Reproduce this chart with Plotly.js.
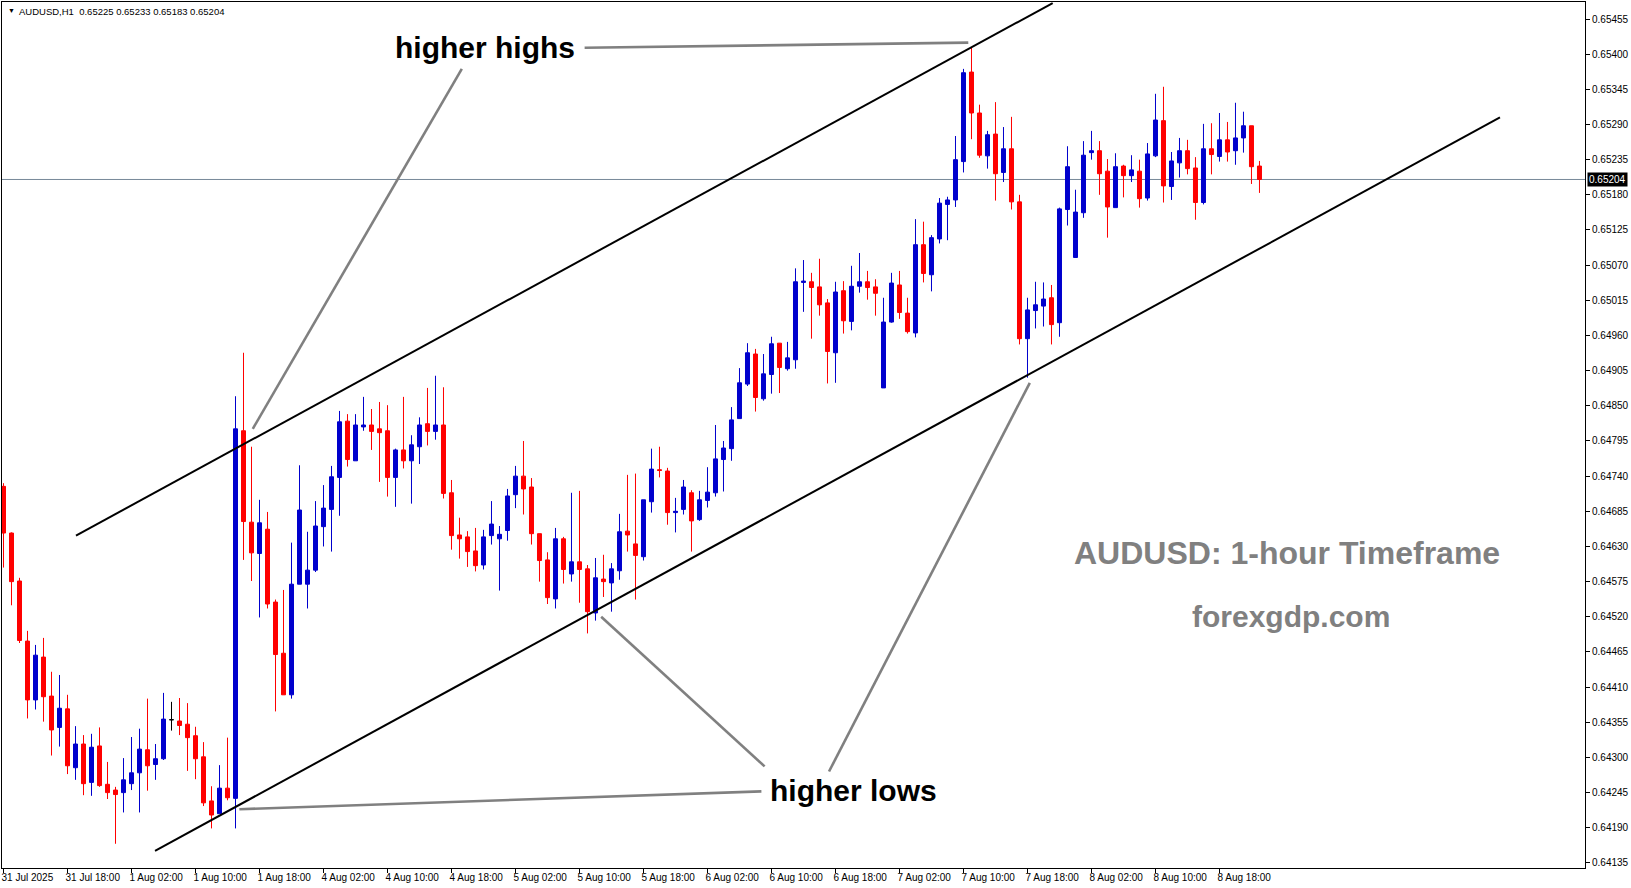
<!DOCTYPE html>
<html>
<head>
<meta charset="utf-8">
<script src="https://cdn.plot.ly/plotly-3.0.1.min.js"></script>
<style>
html,body{margin:0;padding:0;background:#ffffff;}
#chart{width:1631px;height:888px;}
</style>
</head>
<body>
<div id="chart"></div>
<script>
// ---------- DATA ----------
const symbol = "AUDUSD,H1";
const tickLabels = ["31 Jul 2025","31 Jul 18:00","1 Aug 02:00","1 Aug 10:00","1 Aug 18:00","4 Aug 02:00","4 Aug 10:00","4 Aug 18:00","5 Aug 02:00","5 Aug 10:00","5 Aug 18:00","6 Aug 02:00","6 Aug 10:00","6 Aug 18:00","7 Aug 02:00","7 Aug 10:00","7 Aug 18:00","8 Aug 02:00","8 Aug 10:00","8 Aug 18:00"];
const tickBars = [0,8,16,24,32,40,48,56,64,72,80,88,96,104,112,120,128,136,144,152];

const open = [0.64724,0.64651,0.64576,0.64482,0.64390,0.64457,0.64396,0.64347,0.64376,0.64284,
0.64321,0.64261,0.64318,0.64258,0.64249,0.64245,0.64259,0.64276,0.64312,0.64289,
0.64298,0.64359,0.64357,0.64352,0.64334,0.64301,0.64232,0.64212,0.64252,0.64236,
0.64811,0.64668,0.64619,0.64657,0.64543,0.64463,0.64398,0.64571,0.64571,0.64593,
0.64661,0.64688,0.64738,0.64826,0.64764,0.64817,0.64820,0.64814,0.64811,0.64738,
0.64781,0.64764,0.64786,0.64822,0.64810,0.64820,0.64714,0.64648,0.64645,0.64623,
0.64601,0.64647,0.64642,0.64655,0.64711,0.64740,0.64723,0.64650,0.64609,0.64548,
0.64642,0.64587,0.64606,0.64595,0.64526,0.64579,0.64573,0.64592,0.64654,0.64634,
0.64614,0.64700,0.64750,0.64748,0.64683,0.64688,0.64714,0.64672,0.64702,0.64714,
0.64766,0.64783,0.64830,0.64884,0.64931,0.64861,0.64899,0.64948,0.64908,0.64922,
0.65043,0.65044,0.65036,0.65011,0.64933,0.65030,0.64982,0.65037,0.65044,0.65036,
0.64878,0.64981,0.65039,0.64995,0.64964,0.65102,0.65055,0.65111,0.65165,0.65172,
0.65232,0.65372,0.65308,0.65241,0.65275,0.65215,0.65252,0.65169,0.64955,0.64999,
0.65006,0.65019,0.64980,0.65157,0.65082,0.65152,0.65246,0.65249,0.65217,0.65160,
0.65225,0.65210,0.65217,0.65175,0.65241,0.65296,0.65193,0.65230,0.65249,0.65222,
0.65168,0.65252,0.65240,0.65266,0.65249,0.65269,0.65288,0.65225];

const high = [0.64729,0.64652,0.64581,0.64498,0.64476,0.64487,0.64434,0.64429,0.64398,0.64349,
0.64335,0.64337,0.64347,0.64293,0.64254,0.64299,0.64332,0.64345,0.64392,0.64321,
0.64401,0.64387,0.64393,0.64385,0.64348,0.64324,0.64255,0.64288,0.64331,0.64865,
0.64933,0.64786,0.64703,0.64684,0.64547,0.64562,0.64636,0.64757,0.64653,0.64701,
0.64726,0.64756,0.64842,0.64837,0.64837,0.64864,0.64845,0.64856,0.64851,0.64783,
0.64864,0.64804,0.64832,0.64878,0.64897,0.64879,0.64734,0.64675,0.64654,0.64659,
0.64656,0.64701,0.64662,0.64720,0.64756,0.64795,0.64737,0.64650,0.64621,0.64659,
0.64645,0.64714,0.64717,0.64601,0.64612,0.64617,0.64604,0.64681,0.64742,0.64744,
0.64703,0.64783,0.64786,0.64753,0.64706,0.64734,0.64718,0.64717,0.64754,0.64820,
0.64795,0.64848,0.64909,0.64948,0.64939,0.64931,0.64958,0.64948,0.64950,0.65065,
0.65078,0.65058,0.65080,0.65017,0.65044,0.65045,0.65069,0.65089,0.65061,0.65048,
0.65019,0.65058,0.65061,0.65019,0.65142,0.65138,0.65117,0.65175,0.65177,0.65272,
0.65377,0.65411,0.65321,0.65280,0.65325,0.65286,0.65302,0.65180,0.65019,0.65044,
0.65043,0.65039,0.65160,0.65256,0.65188,0.65264,0.65280,0.65264,0.65236,0.65245,
0.65227,0.65242,0.65235,0.65261,0.65338,0.65349,0.65247,0.65269,0.65266,0.65239,
0.65291,0.65292,0.65308,0.65294,0.65324,0.65310,0.65288,0.65233];

const low = [0.64597,0.64538,0.64479,0.64361,0.64375,0.64356,0.64303,0.64317,0.64274,0.64265,
0.64241,0.64240,0.64254,0.64235,0.64165,0.64214,0.64249,0.64214,0.64248,0.64265,
0.64296,0.64342,0.64335,0.64279,0.64266,0.64224,0.64189,0.64212,0.64233,0.64189,
0.64609,0.64576,0.64519,0.64533,0.64372,0.64398,0.64392,0.64571,0.64533,0.64590,
0.64630,0.64622,0.64678,0.64755,0.64764,0.64811,0.64781,0.64731,0.64708,0.64692,
0.64752,0.64697,0.64759,0.64788,0.64797,0.64705,0.64625,0.64611,0.64598,0.64591,
0.64594,0.64633,0.64561,0.64639,0.64690,0.64680,0.64633,0.64575,0.64540,0.64533,
0.64572,0.64575,0.64542,0.64494,0.64514,0.64551,0.64528,0.64578,0.64622,0.64547,
0.64608,0.64683,0.64738,0.64664,0.64652,0.64680,0.64622,0.64670,0.64691,0.64708,
0.64716,0.64764,0.64830,0.64881,0.64841,0.64858,0.64869,0.64870,0.64905,0.64908,
0.64997,0.64955,0.64991,0.64885,0.64886,0.64963,0.64968,0.65027,0.65016,0.64991,
0.64878,0.64980,0.64986,0.64963,0.64957,0.65043,0.65029,0.65104,0.65109,0.65161,
0.65215,0.65267,0.65238,0.65221,0.65171,0.65200,0.65157,0.64946,0.64894,0.64971,
0.64974,0.64946,0.64958,0.65132,0.65082,0.65144,0.65235,0.65180,0.65113,0.65160,
0.65176,0.65200,0.65160,0.65171,0.65239,0.65168,0.65172,0.65207,0.65212,0.65141,
0.65165,0.65212,0.65232,0.65232,0.65227,0.65246,0.65197,0.65183];

const close = [0.64651,0.64575,0.64483,0.64390,0.64460,0.64395,0.64343,0.64377,0.64287,0.64321,
0.64259,0.64316,0.64256,0.64245,0.64242,0.64265,0.64276,0.64313,0.64287,0.64298,
0.64360,0.64359,0.64350,0.64331,0.64298,0.64229,0.64210,0.64252,0.64237,0.64814,
0.64669,0.64620,0.64667,0.64540,0.64461,0.64398,0.64571,0.64687,0.64593,0.64662,
0.64690,0.64739,0.64825,0.64766,0.64820,0.64820,0.64810,0.64808,0.64738,0.64781,
0.64764,0.64789,0.64820,0.64810,0.64820,0.64713,0.64647,0.64642,0.64622,0.64600,
0.64645,0.64665,0.64649,0.64709,0.64740,0.64720,0.64650,0.64608,0.64550,0.64642,
0.64594,0.64606,0.64594,0.64528,0.64581,0.64575,0.64595,0.64653,0.64648,0.64616,
0.64703,0.64751,0.64749,0.64683,0.64685,0.64723,0.64670,0.64703,0.64715,0.64767,
0.64784,0.64828,0.64886,0.64933,0.64863,0.64900,0.64947,0.64910,0.64925,0.65044,
0.65045,0.65035,0.65008,0.64935,0.65028,0.64983,0.65037,0.65044,0.65035,0.65026,
0.64981,0.65042,0.64996,0.64966,0.65102,0.65057,0.65113,0.65167,0.65172,0.65235,
0.65371,0.65308,0.65242,0.65274,0.65213,0.65252,0.65169,0.64955,0.65000,0.65008,
0.65017,0.64977,0.65158,0.65224,0.65153,0.65242,0.65249,0.65213,0.65161,0.65224,
0.65210,0.65219,0.65174,0.65244,0.65297,0.65194,0.65233,0.65249,0.65221,0.65168,
0.65252,0.65243,0.65266,0.65247,0.65269,0.65288,0.65224,0.65204];

const bidPrice = 0.65204;
const priceTick0 = 0.64135;
const priceStep = 0.00055;

// drawn objects (bar index, price)
const channelLines = [
  {x0: 9.06,  y0: 0.64647, x1: 131.15, y1: 0.65480},
  {x0: 18.94, y0: 0.64154, x1: 187.06, y1: 0.65301}
];
const pointerLines = [
  {x0: 72.64, y0: 0.65410, x1: 120.6,  y1: 0.65418},
  {x0: 57.29, y0: 0.65377, x1: 31.16,  y1: 0.64814},
  {x0: 29.48, y0: 0.64219, x1: 94.74,  y1: 0.64247},
  {x0: 74.71, y0: 0.64520, x1: 95.14,  y1: 0.64286},
  {x0: 128.29,y0: 0.64886, x1: 103.19, y1: 0.64278}
];
const textLabels = [
  {text: "higher highs", x: 60.2, y: 0.65410, size: 30, color: "#000000"},
  {text: "higher lows",  x: 106.2, y: 0.64248, size: 30, color: "#000000"},
  {text: "AUDUSD: 1-hour Timeframe", x: 160.4, y: 0.64620, size: 32, color: "#808080"},
  {text: "forexgdp.com", x: 161.0, y: 0.64520, size: 30, color: "#808080"}
];

// ---------- STYLE ----------
const BLUE = "#0000CD", RED = "#FF0000", DOJI = "#000000";
const FONT = "Liberation Sans, Arial, sans-serif";

const xs = open.map((_, i) => i);
const isDoji = i => open[i] === close[i];
const pick = (arr, keep) => arr.filter((_, i) => keep(i));
const notDoji = i => !isDoji(i);

const mainTrace = {
  type: "candlestick",
  x: pick(xs, notDoji), open: pick(open, notDoji), high: pick(high, notDoji),
  low: pick(low, notDoji), close: pick(close, notDoji),
  increasing: {line: {color: BLUE, width: 1}, fillcolor: BLUE},
  decreasing: {line: {color: RED, width: 1}, fillcolor: RED},
  whiskerwidth: 0, showlegend: false, hoverinfo: "skip"
};
const dojiTrace = {
  type: "candlestick",
  x: pick(xs, isDoji), open: pick(open, isDoji), high: pick(high, isDoji),
  low: pick(low, isDoji), close: pick(close, isDoji),
  increasing: {line: {color: DOJI, width: 1}, fillcolor: DOJI},
  decreasing: {line: {color: DOJI, width: 1}, fillcolor: DOJI},
  whiskerwidth: 0, showlegend: false, hoverinfo: "skip"
};

const shapes = [];
shapes.push({type: "line", xref: "paper", x0: 0, x1: 1, yref: "y", y0: bidPrice, y1: bidPrice,
  line: {color: "#778899", width: 1}, layer: "below"});
channelLines.forEach(l => shapes.push({type: "line", xref: "x", yref: "y",
  x0: l.x0, y0: l.y0, x1: l.x1, y1: l.y1, line: {color: "#000000", width: 2}}));
pointerLines.forEach(l => shapes.push({type: "line", xref: "x", yref: "y",
  x0: l.x0, y0: l.y0, x1: l.x1, y1: l.y1, line: {color: "#808080", width: 2.6}}));

const last = open.length - 1;
const headerText = symbol + "  " + [open[last], high[last], low[last], close[last]].map(v => v.toFixed(5)).join(" ");

const annotations = textLabels.map(t => ({
  xref: "x", yref: "y", x: t.x, y: t.y, text: "<b>" + t.text + "</b>", showarrow: false,
  xanchor: "center", yanchor: "middle",
  font: {family: FONT, size: t.size, color: t.color}
}));
annotations.push({xref: "paper", yref: "paper", x: 0, y: 1, xanchor: "left", yanchor: "top",
  xshift: 4, yshift: -3, showarrow: false, text: "▼", font: {family: FONT, size: 7, color: "#000"}});
annotations.push({xref: "paper", yref: "paper", x: 0, y: 1, xanchor: "left", yanchor: "top",
  xshift: 15, yshift: -2, showarrow: false, text: headerText, font: {family: FONT, size: 9.5, color: "#000"}});
annotations.push({xref: "paper", yref: "y", x: 1, y: bidPrice, xanchor: "left", yanchor: "middle",
  xshift: 2, showarrow: false, text: bidPrice.toFixed(5), bgcolor: "#000000", borderpad: 1,
  font: {family: FONT, size: 10, color: "#ffffff"}});

const layout = {
  width: 1631, height: 888,
  margin: {l: 2, r: 46, t: 2, b: 20, pad: 0},
  paper_bgcolor: "#ffffff", plot_bgcolor: "#ffffff",
  showlegend: false, dragmode: false,
  boxgap: 0.5, boxgroupgap: 0,
  xaxis: {
    range: [-0.1875, 197.69], showgrid: false, zeroline: false,
    showline: true, mirror: true, linecolor: "#000000", linewidth: 1,
    ticks: "outside", ticklen: 4, tickcolor: "#000000",
    tickmode: "array", tickvals: tickBars, ticktext: tickLabels,
    ticklabelposition: "outside right", ticklabelshift: -3,
    tickfont: {family: FONT, size: 10, color: "#000000"},
    rangeslider: {visible: false}, fixedrange: true, automargin: false
  },
  yaxis: {
    side: "right", range: [0.641271, 0.654816], showgrid: false, zeroline: false,
    showline: true, mirror: true, linecolor: "#000000", linewidth: 1,
    ticks: "outside", ticklen: 4, tickcolor: "#000000",
    tickmode: "linear", tick0: priceTick0, dtick: priceStep, tickformat: ".5f",
    tickfont: {family: FONT, size: 10, color: "#000000"},
    fixedrange: true, automargin: false
  },
  shapes: shapes,
  annotations: annotations
};

Plotly.newPlot("chart", [mainTrace, dojiTrace], layout, {displayModeBar: false, staticPlot: true});
</script>
</body>
</html>
